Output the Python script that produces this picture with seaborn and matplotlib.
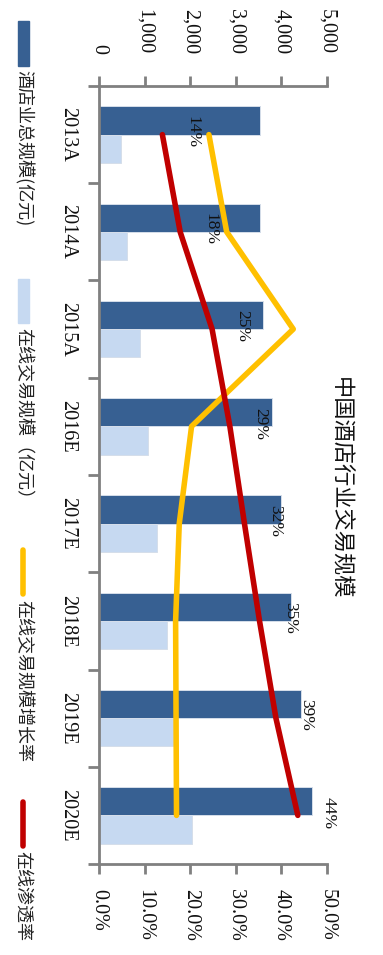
import numpy as np
import pandas as pd
import matplotlib
matplotlib.use('Agg')
import matplotlib.pyplot as plt
import seaborn as sns
from matplotlib.lines import Line2D
from matplotlib.patches import Rectangle
from matplotlib.ticker import FuncFormatter

# data
years = ['2013A', '2014A', '2015A', '2016E', '2017E', '2018E', '2019E', '2020E']
total_scale = [3530, 3540, 3600, 3790, 3990, 4210, 4430, 4680]
online_scale = [490, 620, 890, 1075, 1270, 1485, 1645, 2040]
online_growth = [0.241, 0.280, 0.426, 0.203, 0.176, 0.168, 0.169, 0.170]
penetration = [0.139, 0.178, 0.248, 0.287, 0.319, 0.352, 0.388, 0.436]
pen_labels = ['14%', '18%', '25%', '29%', '32%', '35%', '39%', '44%']
series_names = ['酒店业总规模(亿元)', '在线交易规模（亿元）', '在线交易规模增长率', '在线渗透率']
title = '中国酒店行业交易规模'

DARK = '#376092'
LIGHT = '#C6D9F1'
YELLOW = '#FFC000'
RED = '#C00000'
GRAY = '#808080'
TXT = '#111111'

sns.set_style('white')
plt.rcParams['font.family'] = ['Liberation Serif', 'Noto Sans CJK SC']
plt.rcParams['text.color'] = TXT
plt.rcParams['xtick.color'] = GRAY
plt.rcParams['ytick.color'] = GRAY
plt.rcParams['xtick.labelcolor'] = TXT
plt.rcParams['ytick.labelcolor'] = TXT

W, H = 383, 955
fig = plt.figure(figsize=(W / 100, H / 100), dpi=100)
ax = fig.add_axes([99 / W, 1 - 864 / H, 228 / W, 778 / H])

df = pd.DataFrame({
    'year': years * 2,
    'value': total_scale + online_scale,
    'series': [series_names[0]] * len(years) + [series_names[1]] * len(years),
})
sns.barplot(data=df, x='value', y='year', hue='series', orient='h',
            palette=[DARK, LIGHT], saturation=1, width=0.58, gap=0,
            errorbar=None, edgecolor='#D5DEEA', linewidth=0.7,
            legend=False, ax=ax)

pos = np.arange(len(years))
ax2 = ax.twiny()

# value axis (top)
ax.set_xlim(0, 5000)
ax.xaxis.set_ticks_position('top')
ax.set_xticks(range(0, 5001, 1000))
ax.xaxis.set_major_formatter(FuncFormatter(lambda v, p: f'{v:,.0f}'))
ax.tick_params(axis='x', top=True, bottom=False, labeltop=True, labelbottom=False,
               direction='out', length=7, width=2, pad=16, labelsize=14.5,
               labelrotation=-90)

# category axis (left)
ax.set_yticks(pos)
ax.set_yticklabels(years)
ax.set_yticks(np.arange(-0.5, len(years), 1), minor=True)
ax.tick_params(axis='y', which='major', left=True, length=0, pad=16,
               labelsize=14.5, labelrotation=-90)
ax.tick_params(axis='y', which='minor', left=True, direction='out',
               length=8, width=2)
for lbl in ax.get_yticklabels():
    lbl.set_va('center')
ax.set_xlabel('')
ax.set_ylabel('')
for s in ['right', 'bottom']:
    ax.spines[s].set_visible(False)
for s in ['left', 'top']:
    ax.spines[s].set_color(GRAY)
    ax.spines[s].set_linewidth(2)

# percent axis (bottom)
ax2.set_xlim(0, 0.5)
ax2.xaxis.set_ticks_position('bottom')
ax2.set_xticks(np.arange(0, 0.51, 0.1))
ax2.xaxis.set_major_formatter(FuncFormatter(lambda v, p: f'{v * 100:.1f}%'))
ax2.tick_params(axis='x', bottom=True, top=False, labelbottom=True, labeltop=False,
                direction='out', length=7, width=2, pad=11, labelsize=14.5,
                labelrotation=-90)
for s in ['top', 'left', 'right']:
    ax2.spines[s].set_visible(False)
ax2.spines['bottom'].set_visible(True)
ax2.spines['bottom'].set_color(GRAY)
ax2.spines['bottom'].set_linewidth(2)

ax2.plot(online_growth, pos, color=YELLOW, lw=4, solid_capstyle='round',
         solid_joinstyle='round')
ax2.plot(penetration, pos, color=RED, lw=4, solid_capstyle='round',
         solid_joinstyle='round')
for p, y, lab in zip(penetration, pos, pen_labels):
    ax2.annotate(lab, (p, y), xytext=(22, 2), textcoords='offset points',
                 rotation=-90, ha='center', va='center', fontsize=12.5)
ax.set_ylim(len(years) - 0.5, -0.5)

# title
fig.text(340 / W, 1 - 488 / H, title, rotation=-90, ha='center', va='center',
         fontsize=16, family='Noto Sans CJK SC')

# legend drawn by hand, rotated with the chart
fig.add_artist(Rectangle((18 / W, 1 - 66 / H), 11 / W, 45 / H,
                         transform=fig.transFigure, color=DARK))
fig.add_artist(Rectangle((18 / W, 1 - 323 / H), 11 / W, 44 / H,
                         transform=fig.transFigure, color=LIGHT))
fig.add_artist(Line2D([23 / W, 23 / W], [1 - 550 / H, 1 - 594 / H],
                      transform=fig.transFigure, color=YELLOW, lw=4,
                      solid_capstyle='round'))
fig.add_artist(Line2D([23 / W, 23 / W], [1 - 802 / H, 1 - 846 / H],
                      transform=fig.transFigure, color=RED, lw=4,
                      solid_capstyle='round'))
for name, ytop in zip(series_names, [70, 328, 600, 851]):
    fig.text(23 / W, 1 - ytop / H, name, rotation=-90, ha='center', va='top',
             fontsize=13, family='Noto Sans CJK SC', color='#222222')

fig.savefig('out.png', dpi=100)
